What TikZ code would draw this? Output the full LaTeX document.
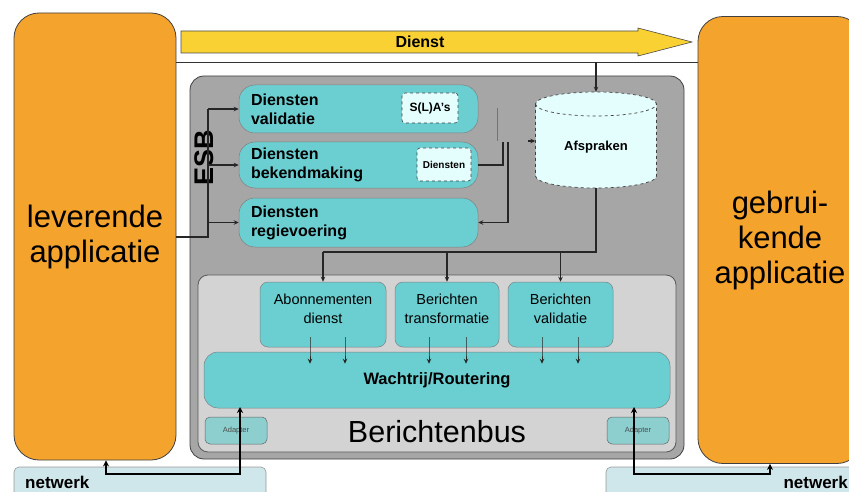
\documentclass[tikz,border=0pt]{standalone}
\usepackage{fontspec}
\setmainfont{Liberation Sans}
\usetikzlibrary{arrows.meta}
\definecolor{orangeapp}{HTML}{F4A32D}
\definecolor{yellowarr}{HTML}{F9D133}
\definecolor{esbgray}{HTML}{A6A6A6}
\definecolor{busgray}{HTML}{D3D3D3}
\definecolor{tealbox}{HTML}{6BCFD2}
\definecolor{lightcyan}{HTML}{E4FDFD}
\definecolor{netcol}{HTML}{CFE6EA}
\definecolor{adaptcol}{HTML}{8DCFCF}
\begin{document}
\begin{tikzpicture}[x=1pt,y=-1pt,
  app/.style={draw=black!75, line width=0.8pt, fill=orangeapp, rounded corners=25pt,
    font=\fontsize{31}{35}\selectfont, align=center, inner sep=0pt},
  frame/.style={draw=black!75, line width=0.8pt, inner sep=0pt},
  dbox/.style={draw=black!50, line width=0.5pt, fill=tealbox, rounded corners=16pt,
    align=left, text width=215pt, inner xsep=12pt, inner ysep=0pt,
    font=\bfseries\fontsize{16}{19}\selectfont},
  sbox/.style={draw=black!50, line width=0.5pt, fill=tealbox, rounded corners=8pt, inner sep=0pt},
  stext/.style={align=center, font=\fontsize{14.5}{19}\selectfont, inner sep=0pt},
  small/.style={draw=black!75, dashed, line width=0.6pt, fill=lightcyan, rounded corners=3pt,
    inner sep=0pt},
  adapt/.style={draw=black!60, line width=0.5pt, fill=adaptcol, rounded corners=5pt,
    inner sep=0pt, font=\fontsize{7.5}{7.5}\selectfont, text=black!70,
    minimum width=62pt, minimum height=27pt},
  net/.style={draw=black!40, line width=0.6pt, fill=netcol, rounded corners=5pt, inner sep=0pt},
  conn/.style={draw=black!85, line width=1.1pt},
  tip/.style={-{Stealth[length=5pt,width=4.5pt]}},
  nline/.style={draw=black, line width=2.4pt},
  ntip/.style={{Stealth[length=6pt,width=6pt]}-{Stealth[length=6pt,width=6pt]}}
]
\useasboundingbox (0,0) rectangle (849,492);
\clip (0,0) rectangle (849,492);

% network strips
\node[net, minimum width=252pt, minimum height=40pt] (netl) at (140,487) {};
\node[net, minimum width=264pt, minimum height=40pt] (netr) at (738,487) {};
\node[anchor=west, font=\bfseries\fontsize{17}{17}\selectfont, inner sep=0pt] (netltext) at (25,482) {netwerk};
\node[anchor=east, font=\bfseries\fontsize{17}{17}\selectfont, inner sep=0pt] (netrtext) at (848,482) {netwerk};

% applications
\node[app, minimum width=162pt, minimum height=447pt] (lev) at (95,236.5) {leverende\\applicatie};
\node[app, minimum width=164pt, minimum height=447pt] (geb) at (780,240) {gebrui-\\kende\\applicatie};

% Dienst arrow
\path[draw=black!70, line width=0.6pt, fill=yellowarr]
  (181,31) -- (638,31) -- (638,28) -- (692,42) -- (638,56) -- (638,53) -- (181,53) -- cycle;
\node[font=\bfseries\fontsize{16}{16}\selectfont, inner sep=0pt] (dienst) at (420,42) {Dienst};

% ESB box and bus box
\node[frame, fill=esbgray, rounded corners=14pt, minimum width=494pt, minimum height=383pt] (esbbox) at (437,267.5) {};
\node[frame, draw=black!65, fill=busgray, rounded corners=10pt, minimum width=478pt, minimum height=177pt] (bus) at (437,363.5) {};

% top line
\coordinate (tl) at (0,62);
\draw[draw=black!80, line width=0.9pt] (lev.east |- tl) -- (geb.west |- tl);

% ESB label
\node[rotate=90, font=\bfseries\fontsize{27}{27}\selectfont, inner sep=0pt] (esb) at (204,158) {ESB};

% Diensten boxes
\node[dbox, minimum height=48pt] (dv) at (358.5,109) {Diensten\\validatie};
\node[dbox, minimum height=46pt] (db) at (358.5,165) {Diensten\\bekendmaking};
\node[dbox, minimum height=49pt] (dr) at (358.5,222.5) {Diensten\\regievoering};
\node[small, minimum width=56pt, minimum height=30pt, font=\bfseries\fontsize{12}{12}\selectfont] (sla) at (430,108) {S(L)A's};
\node[small, minimum width=54pt, minimum height=33pt, font=\bfseries\fontsize{10}{10}\selectfont] (dsm) at (444,164.5) {Diensten};

% Afspraken cylinder
\path[draw=black!75, dashed, line width=0.7pt, fill=lightcyan]
  (535.5,104) -- (535.5,176) arc[start angle=180, end angle=360, x radius=60.5pt, y radius=12pt]
  -- (656.5,104) arc[start angle=0, end angle=180, x radius=60.5pt, y radius=12pt] -- cycle;
\draw[draw=black!75, dashed, line width=0.7pt]
  (535.5,104) arc[start angle=180, end angle=360, x radius=60.5pt, y radius=12pt];
\node[minimum width=121pt, minimum height=96pt, inner sep=0pt] (afs) at (596,140) {};
\node[font=\bfseries\fontsize{13}{13}\selectfont, inner sep=0pt] (afstext) at (596,147) {Afspraken};

% bus contents
\node[sbox, minimum width=126pt, minimum height=65pt] (abo) at (323,314.5) {};
\node[sbox, minimum width=104pt, minimum height=65pt] (btr) at (447,314.5) {};
\node[sbox, minimum width=105pt, minimum height=65pt] (bval) at (560.5,314.5) {};
\node[stext] (abotext) at (323,308.5) {Abonnementen\\dienst};
\node[stext] (btrtext) at (447,308.5) {Berichten\\transformatie};
\node[stext] (bvaltext) at (560.5,308.5) {Berichten\\validatie};
\node[sbox, rounded corners=14pt, minimum width=466pt, minimum height=56pt,
  font=\bfseries\fontsize{16.5}{16.5}\selectfont] (wach) at (437,380) {Wachtrij/Routering};
\node[adapt] (adl) at (236,430.5) {Adapter};
\node[adapt] (adr) at (638,430.5) {Adapter};
\node[font=\fontsize{30.5}{30.5}\selectfont, inner sep=0pt] (bustext) at (437,432) {Berichtenbus};

% left ESB connector
\coordinate (lj) at (208,237);
\draw[conn] (lev.east |- lj) -- (lj) -- (lj |- dv.west);
\draw[conn,tip] (lj |- dv.west) -- (dv.west);
\draw[conn,tip] (lj |- db.west) -- (db.west);
\draw[conn,tip] (lj |- dr.west) -- (dr.west);

% right connectors
\coordinate (r1) at (497,108);
\coordinate (r2) at (497,141);
\draw[draw=black!55, line width=0.8pt] (r1) -- (r2);
\coordinate (r3) at (503,142);
\draw[conn] (db.east) -- (db.east -| r3) -- (r3);
\coordinate (r4) at (508,142);
\draw[conn,tip] (r4) -- (r4 |- dr.east) -- (dr.east);
\coordinate (r5) at (528,141);
\draw[conn,tip] (r5) -- (afs.west |- r5);

% Dienst to Afspraken
\draw[conn, line width=1.6pt, tip] (afs.north |- tl) -- (afs.north);

% Afspraken to bus services
\coordinate (bj) at (596,252);
\draw[conn] (afs.south) -- (bj) -- (abo.north |- bj);
\draw[conn,tip] (abo.north |- bj) -- (abo.north);
\draw[conn,tip] (btr.north |- bj) -- (btr.north);
\draw[conn,tip] (bval.north |- bj) -- (bval.north);

% services to queue
\foreach \n/\dx in {abo/-13, abo/22, btr/-18, btr/19, bval/-18.5, bval/17.5}{
  \draw[conn, line width=0.9pt, tip] ([xshift=\dx pt, yshift=10pt]\n.south) -- ([xshift=\dx pt]\n.south |- wach.north) -- ++(0,12);
}

% network connections
\draw[nline, ntip] (lev.south -| 106,0) -- (106,474) -- (240,474) -- (240 ,407);
\draw[nline, ntip] (634,407) -- (634,474) -- (770,474) -- (geb.south -| 770,0);
\end{tikzpicture}
\end{document}
